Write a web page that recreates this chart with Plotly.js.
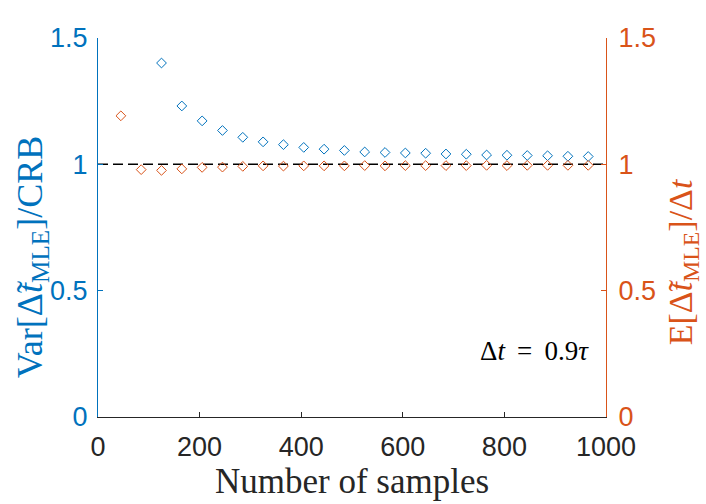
<!DOCTYPE html>
<html>
<head>
<meta charset="utf-8">
<script src="https://cdn.plot.ly/plotly-3.0.1.min.js"></script>
<style>
  html, body { margin: 0; padding: 0; background: #fff; }
  #chart { width: 706px; height: 504px; }
</style>
</head>
<body>
<div id="chart"></div>
<script>
// number of samples for each estimate
var samplesVar = [125, 165, 205, 245, 285, 325, 365, 405, 445, 485, 525,
    565, 605, 645, 685, 725, 765, 805, 845, 885, 925, 965];
var samplesMean = [45, 85, 125, 165, 205, 245, 285, 325, 365, 405, 445, 485,
    525, 565, 605, 645, 685, 725, 765, 805, 845, 885, 925, 965];

// Var[dt_MLE]/CRB (left axis)
var varRatio = [1.401, 1.231, 1.172, 1.134, 1.107, 1.089, 1.078, 1.067, 1.060,
    1.055, 1.049, 1.047, 1.045, 1.044, 1.041, 1.040, 1.037, 1.036, 1.035,
    1.034, 1.032, 1.031];

// E[dt_MLE]/dt (right axis)
var meanRatio = [1.192, 0.979, 0.976, 0.982, 0.988, 0.989, 0.992, 0.994, 0.993,
    0.994, 0.994, 0.994, 0.995, 0.994, 0.995, 0.995, 0.995, 0.995, 0.996,
    0.995, 0.996, 0.996, 0.996, 0.996];

// reference line at 1
var refX = [0, 1000];
var refY = [1, 1];

var xTicks = [0, 200, 400, 600, 800, 1000];
var yTicks = [0, 0.5, 1, 1.5];
var yTickText = ['0', '0.5', '1', '1.5'];

var blue = '#0072BD';
var orange = '#D95319';
var dark = '#262626';
var serif = '"Liberation Serif", "DejaVu Serif", serif';
var sans = '"Liberation Sans", Arial, sans-serif';

var traceRef = {
    x: refX,
    y: refY,
    mode: 'lines',
    line: { color: '#000', width: 1.5, dash: '10px,5px' },
    hoverinfo: 'skip',
    showlegend: false
};

var traceVar = {
    x: samplesVar,
    y: varRatio,
    mode: 'markers',
    marker: { symbol: 'diamond-open', size: 7.5, color: blue, line: { width: 1, color: blue } },
    showlegend: false
};

var traceMean = {
    x: samplesMean,
    y: meanRatio,
    yaxis: 'y2',
    mode: 'markers',
    marker: { symbol: 'diamond-open', size: 7.5, color: orange, line: { width: 1, color: orange } },
    showlegend: false
};

var layout = {
    width: 706,
    height: 504,
    paper_bgcolor: '#fff',
    plot_bgcolor: '#fff',
    margin: { l: 98, r: 100, t: 38, b: 87 },
    xaxis: {
        range: [0, 1000],
        tickvals: xTicks,
        ticks: 'inside',
        ticklen: 5,
        tickcolor: dark,
        showline: true,
        linecolor: dark,
        linewidth: 1,
        showgrid: false,
        zeroline: false,
        ticklabelstandoff: 6,
        tickfont: { family: sans, size: 27, color: dark },
        title: {
            text: 'Number of samples',
            font: { family: serif, size: 35, color: dark },
            standoff: 2
        }
    },
    yaxis: {
        range: [0, 1.5],
        tickvals: yTicks,
        ticktext: yTickText,
        ticks: 'inside',
        ticklen: 5,
        tickcolor: blue,
        showline: true,
        linecolor: blue,
        linewidth: 1,
        showgrid: false,
        zeroline: false,
        ticklabelstandoff: 4,
        tickfont: { family: sans, size: 27, color: blue }
    },
    yaxis2: {
        range: [0, 1.5],
        overlaying: 'y',
        side: 'right',
        tickvals: yTicks,
        ticktext: yTickText,
        ticks: 'inside',
        ticklen: 5,
        tickcolor: orange,
        showline: true,
        linecolor: orange,
        linewidth: 1,
        showgrid: false,
        zeroline: false,
        ticklabelstandoff: 6,
        tickfont: { family: sans, size: 27, color: orange }
    },
    annotations: [
        {
            text: 'Var[Δ\u0303<i>t</i><sub>MLE</sub>]/CRB',
            xref: 'paper', yref: 'paper',
            x: -0.129, y: 0.423,
            xanchor: 'center', yanchor: 'middle',
            textangle: -90,
            showarrow: false,
            font: { family: serif, size: 36, color: blue }
        },
        {
            text: 'E[Δ\u0303<i>t</i><sub>MLE</sub>]/Δ<i>t</i>',
            xref: 'paper', yref: 'paper',
            x: 1.151, y: 0.41,
            xanchor: 'center', yanchor: 'middle',
            textangle: -90,
            showarrow: false,
            font: { family: serif, size: 34, color: orange }
        },
        {
            text: 'Δ<i>t</i>\u00a0\u2009=\u00a0\u20090.9<i>τ</i>',
            xref: 'x', yref: 'y',
            x: 860, y: 0.262,
            xanchor: 'center', yanchor: 'middle',
            showarrow: false,
            font: { family: serif, size: 27, color: '#000' }
        }
    ]
};

Plotly.newPlot('chart', [traceRef, traceVar, traceMean], layout, { staticPlot: true, displayModeBar: false });
</script>
</body>
</html>
